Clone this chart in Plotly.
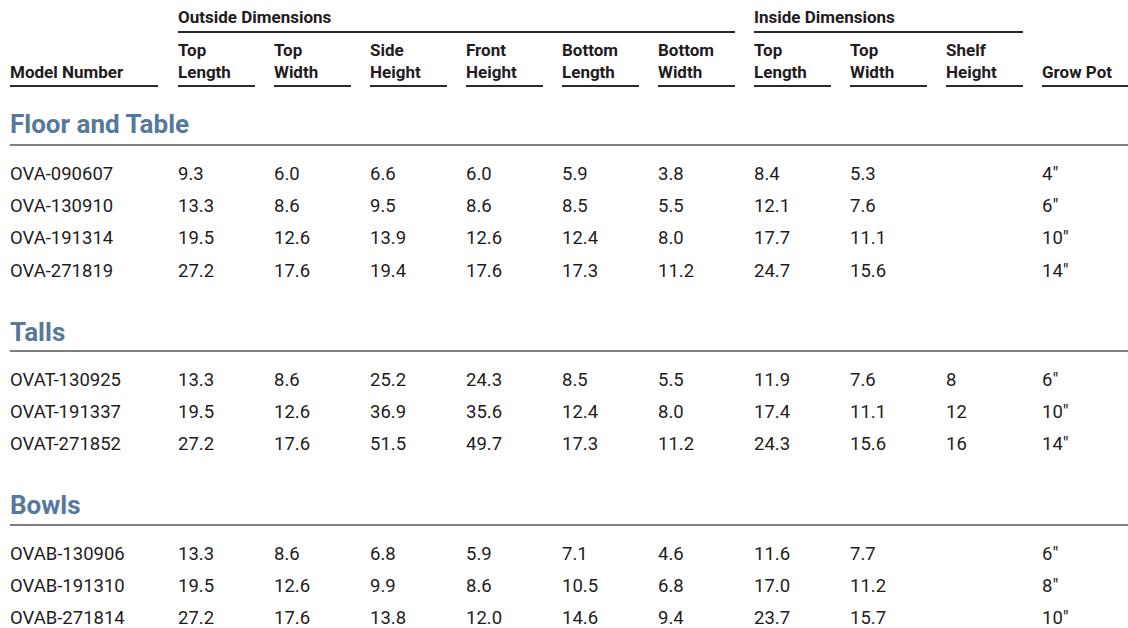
import plotly.graph_objects as go

# ---------------- data ----------------
group_headers = ["Outside Dimensions", "Inside Dimensions"]
col_line1 = ["", "Top", "Top", "Side", "Front", "Bottom", "Bottom", "Top", "Top", "Shelf", ""]
col_line2 = ["Model Number", "Length", "Width", "Height", "Height", "Length", "Width",
             "Length", "Width", "Height", "Grow Pot"]

sections = ["Floor and Table", "Talls", "Bowls"]

floor_models = ["OVA-090607", "OVA-130910", "OVA-191314", "OVA-271819"]
floor_values = [
    ["9.3", "6.0", "6.6", "6.0", "5.9", "3.8", "8.4", "5.3", "", "4″"],
    ["13.3", "8.6", "9.5", "8.6", "8.5", "5.5", "12.1", "7.6", "", "6″"],
    ["19.5", "12.6", "13.9", "12.6", "12.4", "8.0", "17.7", "11.1", "", "10″"],
    ["27.2", "17.6", "19.4", "17.6", "17.3", "11.2", "24.7", "15.6", "", "14″"],
]

talls_models = ["OVAT-130925", "OVAT-191337", "OVAT-271852"]
talls_values = [
    ["13.3", "8.6", "25.2", "24.3", "8.5", "5.5", "11.9", "7.6", "8", "6″"],
    ["19.5", "12.6", "36.9", "35.6", "12.4", "8.0", "17.4", "11.1", "12", "10″"],
    ["27.2", "17.6", "51.5", "49.7", "17.3", "11.2", "24.3", "15.6", "16", "14″"],
]

bowls_models = ["OVAB-130906", "OVAB-191310", "OVAB-271814"]
bowls_values = [
    ["13.3", "8.6", "6.8", "5.9", "7.1", "4.6", "11.6", "7.7", "", "6″"],
    ["19.5", "12.6", "9.9", "8.6", "10.5", "6.8", "17.0", "11.2", "", "8″"],
    ["27.2", "17.6", "13.8", "12.0", "14.6", "9.4", "23.7", "15.7", "", "10″"],
]

# ---------------- layout / style ----------------
W, H = 1128, 628
FONT = "Roboto, Liberation Sans, Arial, sans-serif"
TXT = "#1f1c1d"
BLUE = "#56789c"
col_x = [10, 178, 274, 370, 466, 562, 658, 754, 850, 946, 1042]
col_w = [148, 77, 77, 77, 77, 77, 77, 77, 77, 77, 86]
group_span = [(178, 735), (754, 1023)]

section_title_y = [124, 332, 505]
section_rule_y = [145, 351, 525]
row_gap = 32.4
first_row_offset = 28.5

HEAD_SIZE = 17
BODY_SIZE = 18.5
SEC_SIZE = 26

annotations = []
shapes = []

def text(x, y, s, size, bold=False, color=TXT):
    annotations.append(dict(
        x=x, y=y, xref="x", yref="y", text=(f"<b>{s}</b>" if bold else s),
        showarrow=False, xanchor="left", yanchor="middle",
        font=dict(family=FONT, size=size, color=color), align="left"))

def hline(x0, x1, y, color, width):
    shapes.append(dict(type="line", xref="x", yref="y", x0=x0, x1=x1,
                       y0=y, y1=y, line=dict(color=color, width=width)))

# group headers
for g, (x0, x1) in zip(group_headers, group_span):
    text(x0 - 2, 17, g, HEAD_SIZE, bold=True)
    hline(x0, x1, 32, "#2b2b2b", 2)

# column headers
for i in range(len(col_line2)):
    if col_line1[i]:
        text(col_x[i] - 2, 50, col_line1[i], HEAD_SIZE, bold=True)
    text(col_x[i] - 2, 72, col_line2[i], HEAD_SIZE, bold=True)
    hline(col_x[i], col_x[i] + col_w[i], 86, "#2b2b2b", 2)

# sections
all_models = [floor_models, talls_models, bowls_models]
all_values = [floor_values, talls_values, bowls_values]
for s, ty, ry, models, vals in zip(sections, section_title_y, section_rule_y, all_models, all_values):
    text(8, ty, s, SEC_SIZE, bold=True, color=BLUE)
    hline(10, W, ry, "#555555", 1.5)
    for r, (m, row) in enumerate(zip(models, vals)):
        y = ry + first_row_offset + r * row_gap
        text(col_x[0] - 2, y, m, BODY_SIZE)
        for c, v in enumerate(row):
            if v:
                text(col_x[c + 1] - 2, y, v, BODY_SIZE)

fig = go.Figure()
fig.update_layout(
    width=W, height=H, margin=dict(l=0, r=0, t=0, b=0),
    paper_bgcolor="white", plot_bgcolor="white",
    xaxis=dict(range=[0, W], visible=False, fixedrange=True),
    yaxis=dict(range=[H, 0], visible=False, fixedrange=True),
    annotations=annotations, shapes=shapes, showlegend=False,
)
fig.write_html(
    "out.html",
    config={"displayModeBar": False},
    post_script="document.body.style.margin='0';document.body.style.overflow='hidden';",
)
